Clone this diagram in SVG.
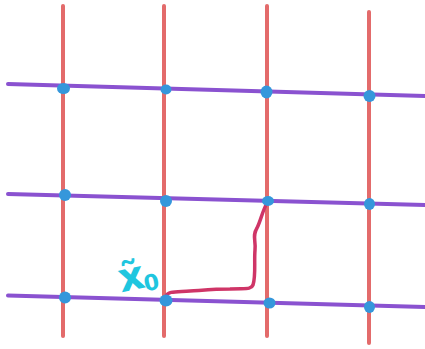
<svg xmlns="http://www.w3.org/2000/svg" width="425" height="349" viewBox="0 0 425 349">
<style>
.v{stroke:#e36b6b;stroke-width:4;stroke-linecap:round;fill:none}
.h{stroke:#8a52d0;stroke-width:4;stroke-linecap:round;fill:none}
.d{fill:#3597db}
.p{stroke:#cf3567;stroke-width:3.5;stroke-linecap:round;stroke-linejoin:round;fill:none}
.t{fill:#1fc6df;font-family:"DejaVu Sans",sans-serif;font-weight:bold}
</style>
<rect width="425" height="349" fill="#ffffff"/>
<g id="connectors">
<line class="v" x1="63" y1="6" x2="63" y2="336"/>
<line class="v" x1="164" y1="6" x2="164" y2="336"/>
<line class="v" x1="267" y1="6" x2="267" y2="336"/>
<line class="v" x1="369" y1="12" x2="369" y2="343"/>
<line class="h" x1="8" y1="84" x2="425" y2="96"/>
<line class="h" x1="8" y1="194" x2="425" y2="205"/>
<line class="h" x1="8" y1="295.5" x2="425" y2="307"/>
<path id="path" class="p" d="M166,296 C168,291 176,292 190,291 C205,290 215,289 230,289 C245,288 251,290 253,285 C256,276 254,262 255,250 C256,240 252,236 257,228 C261,220 262,212 267,203"/>
</g>
<g id="nodes">
<ellipse id="n11" class="d" cx="63.5" cy="88.5" rx="6.5" ry="5.5"/>
<ellipse id="n12" class="d" cx="166" cy="89.5" rx="5.5" ry="5"/>
<ellipse id="n13" class="d" cx="266.5" cy="92" rx="6" ry="6.5"/>
<ellipse id="n14" class="d" cx="369.5" cy="96" rx="6" ry="6"/>
<ellipse id="n21" class="d" cx="65" cy="195" rx="6" ry="6"/>
<ellipse id="n22" class="d" cx="166" cy="201" rx="6" ry="6"/>
<ellipse id="n23" class="d" cx="268" cy="201" rx="6" ry="5"/>
<ellipse id="n24" class="d" cx="369.5" cy="204" rx="5.5" ry="6"/>
<ellipse id="n31" class="d" cx="65" cy="297.5" rx="6" ry="6"/>
<ellipse id="n32" class="d" cx="166" cy="300.5" rx="6.5" ry="6"/>
<ellipse id="n33" class="d" cx="269.5" cy="303" rx="6" ry="5.5"/>
<ellipse id="n34" class="d" cx="369.5" cy="307" rx="5.5" ry="6"/>
</g>
<g id="label">
<text class="t" x="119" y="290" font-size="40" transform="rotate(-12 132 280)">x̃<tspan font-size="22" dx="-2" dy="4">0</tspan></text>
</g>
</svg>
